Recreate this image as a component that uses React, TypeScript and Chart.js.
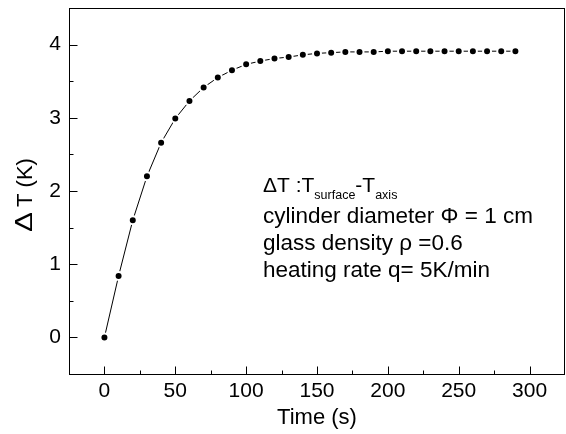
import React, { useEffect, useRef } from "react";
import { Chart, registerables } from "chart.js";

Chart.register(...registerables);

// ---- data ----
const TIME_S = [0, 10, 20, 30, 40, 50, 60, 70, 80, 90, 100, 110, 120, 130, 140, 150, 160, 170, 180, 190, 200, 210, 220, 230, 240, 250, 260, 270, 280, 290];
const DELTA_T_K = [0, 0.84, 1.6, 2.2, 2.66, 2.99, 3.23, 3.415, 3.55, 3.65, 3.73, 3.775, 3.81, 3.83, 3.86, 3.88, 3.89, 3.9, 3.9, 3.9, 3.91, 3.91, 3.91, 3.91, 3.91, 3.91, 3.91, 3.91, 3.91, 3.91];

const X_TICKS = [0, 50, 100, 150, 200, 250, 300];
const X_MINOR = [25, 75, 125, 175, 225, 275];
const Y_TICKS = [0, 1, 2, 3, 4];
const Y_MINOR = [0.5, 1.5, 2.5, 3.5];

const X_TITLE = "Time (s)";
const Y_TITLE_SYMBOL = "\u0394";
const Y_TITLE_REST = "T (K)";
const NOTE_TITLE: { t: string; sub?: boolean }[] = [
  { t: "\u0394T :T" }, { t: "surface", sub: true }, { t: "-T" }, { t: "axis", sub: true },
];
const NOTE_LINES = [
  "cylinder diameter \u03A6 = 1 cm",
  "glass density \u03C1 =0.6",
  "heating rate q= 5K/min",
];

const FAMILY = "'Liberation Sans', Arial, Helvetica, sans-serif";

const framePlugin = {
  id: "frameAndTicks",
  afterDraw(chart: any) {
    const { ctx, chartArea, scales } = chart;
    const { left, right, top, bottom } = chartArea;
    const xs = scales.x;
    const ys = scales.y;
    ctx.save();
    ctx.strokeStyle = "#000";
    ctx.lineWidth = 1;
    ctx.strokeRect(Math.round(left) + 0.5, Math.round(top) + 0.5, Math.round(right - left) - 1, Math.round(bottom - top));
    const b = Math.round(bottom) + 0.5;
    const l = Math.round(left) + 0.5;
    ctx.beginPath();
    X_TICKS.forEach((v) => {
      const px = Math.round(xs.getPixelForValue(v)) + 0.5;
      ctx.moveTo(px, b);
      ctx.lineTo(px, b - 8);
    });
    X_MINOR.forEach((v) => {
      const px = Math.round(xs.getPixelForValue(v)) + 0.5;
      ctx.moveTo(px, b);
      ctx.lineTo(px, b - 4);
    });
    Y_TICKS.forEach((v) => {
      const py = Math.round(ys.getPixelForValue(v)) + 0.5;
      ctx.moveTo(l, py);
      ctx.lineTo(l + 8, py);
    });
    Y_MINOR.forEach((v) => {
      const py = Math.round(ys.getPixelForValue(v)) + 0.5;
      ctx.moveTo(l, py);
      ctx.lineTo(l + 4, py);
    });
    ctx.stroke();

    // annotation
    ctx.fillStyle = "#000";
    ctx.textBaseline = "alphabetic";
    ctx.textAlign = "left";
    const x0 = left + 194;
    const y0 = top + 184;
    let x = x0;
    NOTE_TITLE.forEach((p) => {
      ctx.font = p.sub ? `12.5px ${FAMILY}` : `21px ${FAMILY}`;
      ctx.fillText(p.t, x, y0 + (p.sub ? 7 : 0));
      x += ctx.measureText(p.t).width;
    });
    ctx.font = `22.5px ${FAMILY}`;
    NOTE_LINES.forEach((t, i) => {
      ctx.fillText(t, x0, y0 + 31 + i * 26.8);
    });

    // y axis title (rotated), wide delta as in the reference
    const midY = (top + bottom) / 2;
    ctx.save();
    ctx.translate(31.5, midY + 41);
    ctx.rotate(-Math.PI / 2);
    ctx.font = `22px ${FAMILY}`;
    const dw = ctx.measureText(Y_TITLE_SYMBOL).width;
    ctx.save();
    ctx.scale(20 / dw, 1.06);
    ctx.fillText(Y_TITLE_SYMBOL, 0, 0);
    ctx.restore();
    ctx.fillText(Y_TITLE_REST, 25, 0);
    ctx.restore();

    ctx.restore();
  },
};

export default function App() {
  const ref = useRef<HTMLCanvasElement | null>(null);
  useEffect(() => {
    if (!ref.current) return;
    const data = TIME_S.map((t, i) => ({ x: t, y: DELTA_T_K[i] }));
    const chart = new Chart(ref.current, {
      type: "line",
      data: {
        datasets: [
          {
            data,
            borderColor: "#000",
            borderWidth: 1,
            pointRadius: 4,
            pointHoverRadius: 4,
            pointBackgroundColor: "#000",
            pointBorderColor: "#fff",
            pointBorderWidth: 2,
            tension: 0,
            fill: false,
          },
        ],
      },
      options: {
        animation: false,
        responsive: false,
        devicePixelRatio: 1,
        layout: { autoPadding: false, padding: { top: 8, right: 1, left: 0, bottom: 0 } },
        plugins: { legend: { display: false }, tooltip: { enabled: false } },
        scales: {
          x: {
            type: "linear",
            min: -25,
            max: 325,
            grid: { display: false, drawTicks: false },
            border: { display: false },
            ticks: { font: { family: FAMILY, size: 21 }, color: "#000", padding: 5, maxRotation: 0 },
            afterBuildTicks: (s: any) => {
              s.ticks = X_TICKS.map((v) => ({ value: v }));
            },
            afterFit: (s: any) => {
              s.height = 60;
              s.paddingLeft = 0;
              s.paddingRight = 0;
            },
            title: { display: true, text: X_TITLE, font: { family: FAMILY, size: 22 }, color: "#000", padding: { top: 0, bottom: 3 } },
          },
          y: {
            type: "linear",
            min: -0.5,
            max: 4.5,
            grid: { display: false, drawTicks: false },
            border: { display: false },
            ticks: { font: { family: FAMILY, size: 21 }, color: "#000", padding: 8 },
            afterBuildTicks: (s: any) => {
              s.ticks = Y_TICKS.map((v) => ({ value: v }));
            },
            afterFit: (s: any) => {
              s.width = 69;
              s.paddingTop = 0;
              s.paddingBottom = 0;
            },
            title: { display: false },
          },
        },
      },
      plugins: [framePlugin],
    } as any);
    return () => chart.destroy();
  }, []);
  return (
    <div style={{ position: "absolute", left: 0, top: 0, width: 566, height: 434, background: "#fff" }}>
      <canvas ref={ref} width={566} height={434} />
    </div>
  );
}
